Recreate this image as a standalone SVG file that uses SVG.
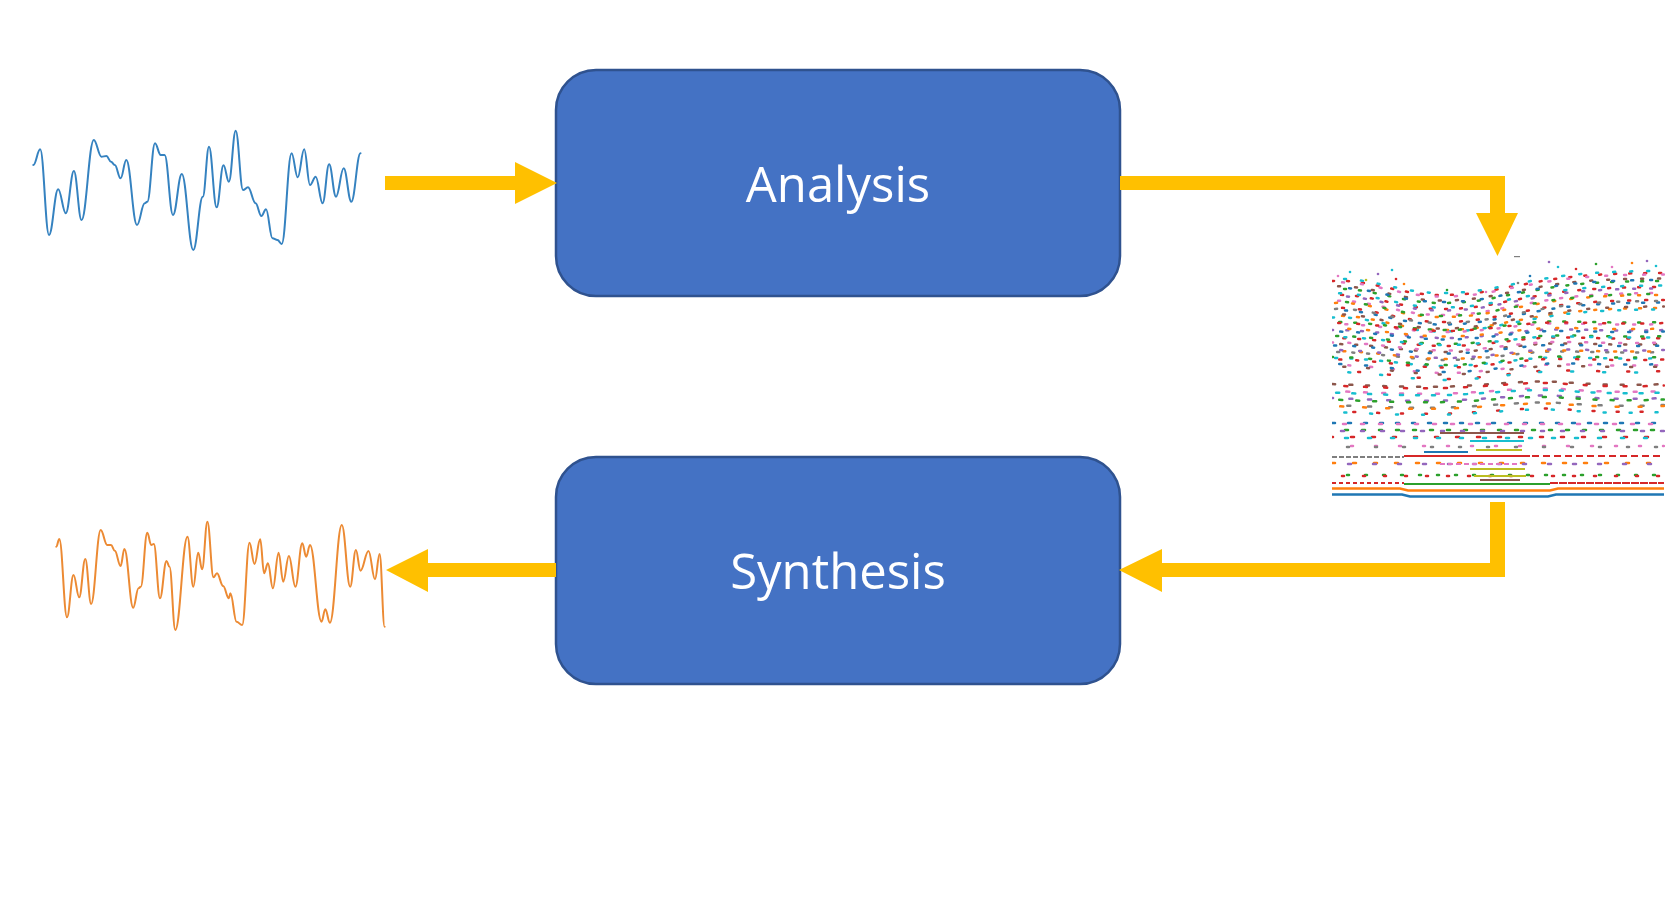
<svg xmlns="http://www.w3.org/2000/svg" xmlns:xlink="http://www.w3.org/1999/xlink" width="1678" height="903" viewBox="0 0 1678 903">
<style>
.box{fill:#4472C4;stroke:#2F528F;stroke-width:2.5}
.lbl{font-family:"Open Sans","Noto Sans",sans-serif;font-size:49px;fill:#FFFFFF;text-anchor:middle}
.arr{fill:#FFC000;stroke:none}
.wave{fill:none;stroke-width:2;stroke-linejoin:round;stroke-linecap:round}
.d{fill:none;stroke-width:2.5;stroke-linecap:round}
.s{fill:none;stroke-width:2.2}
.A{stroke-dasharray:2 13}
.B{stroke-dasharray:2 15}
.C{stroke-dasharray:2 17}
</style>
<defs>
<path id="w1" d="M1332,0 C1370,-2 1400,14 1440,14 S1495,8 1520,4 S1570,-8 1664,-8"/>
<path id="w2" d="M1332,0 C1375,0 1410,8 1445,8 S1510,2 1540,0 S1610,2 1664,0"/>
<path id="w3" d="M1332,0 C1380,2 1420,4 1460,2 S1530,-4 1560,-2 S1620,2 1664,0"/>
<path id="w4" d="M1332,0 L1664,0"/>
<clipPath id="spc"><rect x="1332" y="255" width="333" height="245"/></clipPath>
</defs>

<g id="input-wave">
<path class="wave" stroke="#3582C0" d="M33.3,165 C36.1,165 37.4,149.3 40.2,149.3 C43.7,149.3 45.5,235 49,235 C52.7,235 54.5,189.3 58.2,189.3 C61.2,189.3 62.8,213.3 65.8,213.3 C69,213.3 70.7,171 73.9,171 C76.9,171 78.5,220 81.5,220 C86.4,220 88.9,140 93.8,140 C96.8,140 98.4,156.7 101.4,156.7 C103.4,156.7 104.4,156 106.4,156 C108.2,156 109.2,161.7 111,161.7 C112.5,161.7 113.3,165 114.8,165 C117.1,165 118.3,178.3 120.6,178.3 C122.9,178.3 124,160 126.3,160 C130.6,160 132.7,225 137,225 C140.1,225 141.6,203.3 144.7,203.3 C145.7,203.3 146.3,201.7 147.3,201.7 C150.4,201.7 151.9,143.3 155,143.3 C157.3,143.3 158.4,155 160.7,155 C162.3,155 163,155 164.6,155 C168,155 169.6,215 173,215 C176.5,215 178.3,174 181.8,174 C186.4,174 188.7,250 193.3,250 C197.1,250 199,196.7 202.8,196.7 C205.3,196.7 206.5,146.7 209,146.7 C212,146.7 213.6,207.3 216.6,207.3 C219.4,207.3 220.7,165.3 223.5,165.3 C225.7,165.3 226.7,181.7 228.9,181.7 C231.6,181.7 233,130.7 235.7,130.7 C238.6,130.7 240.1,190 243,190 C245,190 246,187.3 248,187.3 C251,187.3 252.6,203.3 255.6,203.3 C257.9,203.3 259.1,216 261.4,216 C263.2,216 264.2,209.3 266,209.3 C268.6,209.3 269.9,238.3 272.5,238.3 C274.5,238.3 275.5,240 277.5,240 C279.2,240 280,244 281.7,244 C285.7,244 287.6,153.3 291.6,153.3 C294,153.3 295.3,177.3 297.7,177.3 C300.3,177.3 301.6,149.3 304.2,149.3 C306.5,149.3 307.7,185 310,185 C312.3,185 313.4,176.7 315.7,176.7 C318.5,176.7 319.8,203.3 322.6,203.3 C325.2,203.3 326.5,164.3 329.1,164.3 C331.9,164.3 333.2,196.7 336,196.7 C339.1,196.7 340.6,168.3 343.7,168.3 C346.7,168.3 348.3,201.7 351.3,201.7 C355,201.7 356.8,153.3 360.5,153.3"/>
</g>

<g id="output-wave">
<path class="wave" stroke="#EC8A33" d="M56.3,546.7 C57.5,546.7 58.1,539 59.3,539 C62.4,539 63.9,617.3 67,617.3 C69.6,617.3 70.9,575 73.5,575 C75.8,575 76.9,597.3 79.2,597.3 C81.6,597.3 82.9,559 85.3,559 C87.6,559 88.8,604 91.1,604 C94.9,604 96.9,530 100.7,530 C103.3,530 104.6,545 107.2,545 C108.7,545 109.5,545 111,545 C112.5,545 113.3,550.7 114.8,550.7 C117.1,550.7 118.3,566 120.6,566 C122.1,566 122.9,549 124.4,549 C127.9,549 129.7,607.7 133.2,607.7 C135.3,607.7 136.4,588.3 138.5,588.3 C139.4,588.3 139.9,586.7 140.8,586.7 C143.4,586.7 144.7,532.7 147.3,532.7 C148.9,532.7 149.6,545 151.2,545 C152.2,545 152.8,544 153.8,544 C156.3,544 157.5,598.3 160,598.3 C162.6,598.3 163.9,561 166.5,561 C167.7,561 168.3,566.7 169.5,566.7 C171.8,566.7 173,630 175.3,630 C180.2,630 182.6,536.7 187.5,536.7 C189.8,536.7 191,586.7 193.3,586.7 C195.3,586.7 196.2,552.7 198.2,552.7 C199.8,552.7 200.5,569.3 202.1,569.3 C204.2,569.3 205.3,521.7 207.4,521.7 C209.8,521.7 211.1,577.3 213.5,577.3 C214.9,577.3 215.6,573.3 217,573.3 C219.4,573.3 220.7,586 223.1,586 C225.4,586 226.6,598.3 228.9,598.3 C229.5,598.3 229.8,593.3 230.4,593.3 C232.8,593.3 234.1,621.7 236.5,621.7 C238.8,621.7 239.9,625 242.2,625 C245.1,625 246.6,542.7 249.5,542.7 C251.5,542.7 252.5,564 254.5,564 C256.8,564 257.9,539.3 260.2,539.3 C261.8,539.3 262.5,573.3 264.1,573.3 C265.6,573.3 266.4,563.3 267.9,563.3 C269.9,563.3 270.9,588.3 272.9,588.3 C275.2,588.3 276.3,552.7 278.6,552.7 C280.4,552.7 281.4,581.7 283.2,581.7 C285.5,581.7 286.6,556 288.9,556 C291.5,556 292.8,586.7 295.4,586.7 C298.2,586.7 299.5,543.3 302.3,543.3 C303.9,543.3 304.6,556.7 306.2,556.7 C307.7,556.7 308.5,545 310,545 C314.6,545 316.9,621.7 321.5,621.7 C323,621.7 323.8,609.3 325.3,609.3 C327.1,609.3 328.1,622.7 329.9,622.7 C334.7,622.7 337,525 341.8,525 C345.2,525 346.8,586.7 350.2,586.7 C352.5,586.7 353.6,550 355.9,550 C357.7,550 358.7,570.7 360.5,570.7 C363.7,570.7 365.3,551 368.5,551 C371.1,551 372.4,579.3 375,579.3 C376.8,579.3 377.8,554 379.6,554 C381.6,554 382.6,626.7 384.6,626.7"/>
</g>

<g id="analysis">
<rect class="box" x="556" y="70" width="564" height="226" rx="40" ry="40"/>
<text class="lbl" x="838" y="202">Analysis</text>
</g>

<g id="synthesis">
<rect class="box" x="556" y="457" width="564" height="227" rx="40" ry="40"/>
<text class="lbl" x="838" y="589">Synthesis</text>
</g>

<g id="spectrogram" clip-path="url(#spc)">
<g stroke="none">
<circle cx="1338" cy="276" r="1.3" fill="#e377c2"/>
<circle cx="1350" cy="272" r="1.3" fill="#17becf"/>
<circle cx="1366" cy="280" r="1.3" fill="#bcbd22"/>
<circle cx="1378" cy="274" r="1.3" fill="#9467bd"/>
<circle cx="1392" cy="270" r="1.3" fill="#17becf"/>
<circle cx="1396" cy="279" r="1.3" fill="#d62728"/>
<circle cx="1404" cy="284" r="1.3" fill="#ff7f0e"/>
<circle cx="1447" cy="290" r="1.3" fill="#2ca02c"/>
<circle cx="1486" cy="292" r="1.3" fill="#e377c2"/>
<circle cx="1518" cy="283" r="1.3" fill="#7f7f7f"/>
<circle cx="1530" cy="276" r="1.3" fill="#1f77b4"/>
<circle cx="1549" cy="262" r="1.3" fill="#9467bd"/>
<circle cx="1558" cy="267" r="1.3" fill="#17becf"/>
<circle cx="1576" cy="269" r="1.3" fill="#d62728"/>
<circle cx="1596" cy="264" r="1.3" fill="#2ca02c"/>
<circle cx="1612" cy="267" r="1.3" fill="#e377c2"/>
<circle cx="1632" cy="263" r="1.3" fill="#ff7f0e"/>
<circle cx="1647" cy="261" r="1.3" fill="#9467bd"/>
<circle cx="1656" cy="266" r="1.3" fill="#17becf"/>
<rect x="1514" y="256" width="6" height="1.2" fill="#7f7f7f"/>
</g>
<use xlink:href="#w1" class="d A" y="281" stroke="#d62728" stroke-dashoffset="0"/>
<use xlink:href="#w1" class="d B" y="279" stroke="#17becf" stroke-dashoffset="5"/>
<use xlink:href="#w1" class="d C" y="282.5" stroke="#e377c2" stroke-dashoffset="9"/>
<use xlink:href="#w1" class="d A" y="289" stroke="#2ca02c" stroke-dashoffset="3"/>
<use xlink:href="#w1" class="d B" y="286.5" stroke="#8c564b" stroke-dashoffset="11"/>
<use xlink:href="#w1" class="d C" y="288" stroke="#1f77b4" stroke-dashoffset="2"/>
<use xlink:href="#w1" class="d A" y="295" stroke="#d62728" stroke-dashoffset="6"/>
<use xlink:href="#w1" class="d B" y="296.5" stroke="#9467bd" stroke-dashoffset="2"/>
<use xlink:href="#w1" class="d C" y="293.5" stroke="#17becf" stroke-dashoffset="12"/>
<use xlink:href="#w1" class="d A" y="301" stroke="#e377c2" stroke-dashoffset="9"/>
<use xlink:href="#w1" class="d B" y="303" stroke="#ff7f0e" stroke-dashoffset="14"/>
<use xlink:href="#w1" class="d C" y="302" stroke="#2ca02c" stroke-dashoffset="5"/>
<use xlink:href="#w1" class="d A" y="310.5" stroke="#1f77b4" stroke-dashoffset="2"/>
<use xlink:href="#w1" class="d B" y="308" stroke="#d62728" stroke-dashoffset="7"/>
<use xlink:href="#w1" class="d C" y="309" stroke="#7f7f7f" stroke-dashoffset="16"/>
<use xlink:href="#w1" class="d A" y="316" stroke="#ff7f0e" stroke-dashoffset="5"/>
<use xlink:href="#w1" class="d B" y="317.5" stroke="#17becf" stroke-dashoffset="0"/>
<use xlink:href="#w1" class="d C" y="314.5" stroke="#8c564b" stroke-dashoffset="8"/>
<use xlink:href="#w2" class="d A" y="322" stroke="#2ca02c" stroke-dashoffset="8"/>
<use xlink:href="#w2" class="d B" y="324" stroke="#e377c2" stroke-dashoffset="4"/>
<use xlink:href="#w2" class="d C" y="323" stroke="#d62728" stroke-dashoffset="13"/>
<use xlink:href="#w2" class="d A" y="330" stroke="#9467bd" stroke-dashoffset="1"/>
<use xlink:href="#w2" class="d B" y="331.5" stroke="#1f77b4" stroke-dashoffset="9"/>
<use xlink:href="#w2" class="d C" y="328.5" stroke="#ff7f0e" stroke-dashoffset="3"/>
<use xlink:href="#w2" class="d A" y="338" stroke="#d62728" stroke-dashoffset="4"/>
<use xlink:href="#w2" class="d B" y="336" stroke="#2ca02c" stroke-dashoffset="13"/>
<use xlink:href="#w2" class="d C" y="337" stroke="#17becf" stroke-dashoffset="7"/>
<use xlink:href="#w2" class="d A" y="344" stroke="#8c564b" stroke-dashoffset="7"/>
<use xlink:href="#w2" class="d B" y="342.5" stroke="#e377c2" stroke-dashoffset="1"/>
<use xlink:href="#w2" class="d C" y="345.5" stroke="#1f77b4" stroke-dashoffset="17"/>
<use xlink:href="#w2" class="d A" y="352" stroke="#7f7f7f" stroke-dashoffset="10"/>
<use xlink:href="#w2" class="d B" y="351" stroke="#ff7f0e" stroke-dashoffset="6"/>
<use xlink:href="#w2" class="d C" y="350" stroke="#9467bd" stroke-dashoffset="11"/>
<use xlink:href="#w2" class="d A" y="358" stroke="#17becf" stroke-dashoffset="12"/>
<use xlink:href="#w2" class="d B" y="359.5" stroke="#d62728" stroke-dashoffset="10"/>
<use xlink:href="#w2" class="d C" y="357" stroke="#2ca02c" stroke-dashoffset="1"/>
<use xlink:href="#w2" class="d" y="365" stroke="#e377c2" stroke-dasharray="2 20" stroke-dashoffset="6"/>
<use xlink:href="#w2" class="d" y="366.5" stroke="#8c564b" stroke-dasharray="2 22" stroke-dashoffset="13"/>
<use xlink:href="#w2" class="d" y="364" stroke="#1f77b4" stroke-dasharray="2 24" stroke-dashoffset="19"/>
<use xlink:href="#w2" class="d" y="371" stroke="#d62728" stroke-dasharray="2 28" stroke-dashoffset="4"/>
<use xlink:href="#w2" class="d" y="372" stroke="#17becf" stroke-dasharray="2 30" stroke-dashoffset="16"/>
<use xlink:href="#w3" class="d" y="384" stroke="#8c564b" stroke-dasharray="3 14" stroke-dashoffset="0"/>
<use xlink:href="#w3" class="d" y="385.5" stroke="#d62728" stroke-dasharray="3 17" stroke-dashoffset="8"/>
<use xlink:href="#w3" class="d" y="391" stroke="#e377c2" stroke-dasharray="3 15" stroke-dashoffset="4"/>
<use xlink:href="#w3" class="d" y="392.5" stroke="#17becf" stroke-dasharray="3 13" stroke-dashoffset="12"/>
<use xlink:href="#w3" class="d" y="398" stroke="#9467bd" stroke-dasharray="3 16" stroke-dashoffset="2"/>
<use xlink:href="#w3" class="d" y="399.5" stroke="#2ca02c" stroke-dasharray="3 14" stroke-dashoffset="10"/>
<use xlink:href="#w3" class="d" y="405" stroke="#7f7f7f" stroke-dasharray="3 18" stroke-dashoffset="6"/>
<use xlink:href="#w3" class="d" y="406" stroke="#ff7f0e" stroke-dasharray="3 20" stroke-dashoffset="15"/>
<use xlink:href="#w3" class="d" y="411" stroke="#d62728" stroke-dasharray="2 22" stroke-dashoffset="3"/>
<use xlink:href="#w3" class="d" y="412" stroke="#17becf" stroke-dasharray="2 24" stroke-dashoffset="14"/>
<use xlink:href="#w4" class="d" y="423" stroke="#1f77b4" stroke-dasharray="3 13" stroke-dashoffset="0"/>
<use xlink:href="#w4" class="d" y="424" stroke="#e377c2" stroke-dasharray="3 15" stroke-dashoffset="7"/>
<use xlink:href="#w4" class="d" y="430" stroke="#2ca02c" stroke-dasharray="3 14" stroke-dashoffset="4"/>
<use xlink:href="#w4" class="d" y="431" stroke="#9467bd" stroke-dasharray="3 17" stroke-dashoffset="11"/>
<use xlink:href="#w4" class="d" y="437" stroke="#d62728" stroke-dasharray="3 18" stroke-dashoffset="2"/>
<use xlink:href="#w4" class="d" y="438" stroke="#17becf" stroke-dasharray="3 20" stroke-dashoffset="10"/>
<use xlink:href="#w4" class="d" y="446" stroke="#e377c2" stroke-dasharray="2 22" stroke-dashoffset="5"/>
<use xlink:href="#w4" class="d" y="447" stroke="#7f7f7f" stroke-dasharray="2 26" stroke-dashoffset="13"/>
<path class="s" stroke="#8c564b" d="M1440,433 L1524,433"/>
<path class="s" stroke="#17becf" d="M1470,441 L1524,441"/>
<path class="s" stroke="#bcbd22" d="M1476,450 L1522,450"/>
<path class="s" stroke="#1f77b4" d="M1424,452 L1468,452"/>
<path class="s" stroke="#7f7f7f" stroke-dasharray="5 2" d="M1332,457 L1404,457"/>
<path class="s" stroke="#d62728" d="M1404,456 L1530,456"/>
<path class="s" stroke="#d62728" stroke-dasharray="7 4" d="M1532,456 L1664,456"/>
<use xlink:href="#w4" class="d" y="463" stroke="#ff7f0e" stroke-dasharray="3 18" stroke-dashoffset="0"/>
<use xlink:href="#w4" class="d" y="464" stroke="#9467bd" stroke-dasharray="3 22" stroke-dashoffset="9"/>
<path class="s" stroke="#e377c2" stroke-dasharray="5 3" d="M1440,464 L1520,464"/>
<path class="s" stroke="#bcbd22" d="M1470,469 L1525,469"/>
<use xlink:href="#w4" class="d" y="475" stroke="#2ca02c" stroke-dasharray="2 16" stroke-dashoffset="3"/>
<use xlink:href="#w4" class="d" y="476" stroke="#d62728" stroke-dasharray="2 19" stroke-dashoffset="11"/>
<path class="s" stroke="#bcbd22" d="M1474,476 L1526,476"/>
<path class="s" stroke="#8c564b" d="M1480,480 L1520,480"/>
<path class="s" stroke="#d62728" stroke-dasharray="4 3" d="M1332,483 L1404,483"/>
<path class="s" stroke="#2ca02c" d="M1404,484 L1550,484"/>
<path class="s" stroke="#d62728" stroke-dasharray="8 1" d="M1550,483 L1664,483"/>
<path fill="none" stroke="#ff7f0e" stroke-width="2.4" d="M1332,488.5 L1400,488.5 L1408,490.5 L1550,490.5 L1558,488.5 L1664,488.5"/>
<path fill="none" stroke="#1f77b4" stroke-width="2.6" d="M1332,494.5 L1402,494.5 L1410,496.5 L1548,496.5 L1556,494.5 L1664,494.5"/>
</g>

<g id="connectors">
<polygon class="arr" points="385,176 515,176 515,162 557,183 515,204 515,190 385,190"/>
<polygon class="arr" points="1120,176 1505,176 1505,213 1518,213 1497.5,256 1476,213 1490,213 1490,190 1120,190"/>
<polygon class="arr" points="1490,502 1505,502 1505,577 1162,577 1162,592 1119,570 1162,549 1162,563 1490,563"/>
<polygon class="arr" points="556,563 428,563 428,549 386,570 428,592 428,577 556,577"/>
</g>
</svg>
